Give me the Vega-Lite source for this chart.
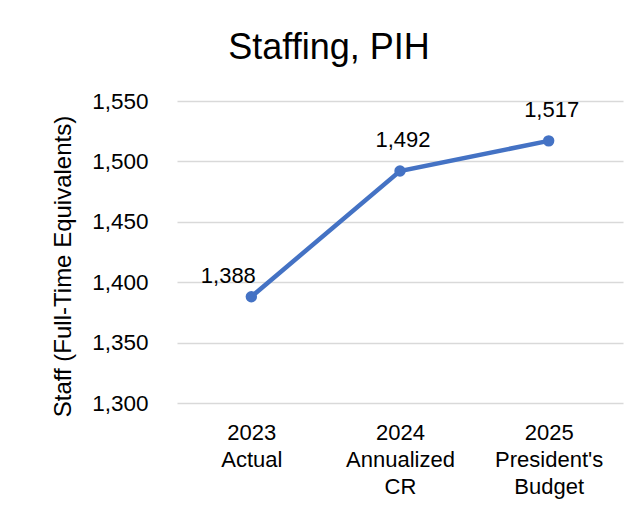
{
  "$schema": "https://vega.github.io/schema/vega-lite/v6.json",
  "autosize": {"type": "none"},
  "width": 446,
  "height": 302,
  "padding": {"left": 177, "top": 101, "right": 21, "bottom": 109},
  "background": "white",
  "config": {
    "font": "Liberation Sans",
    "view": {"stroke": null}
  },
  "title": {
    "text": "Staffing, PIH",
    "fontSize": 36,
    "font": "Liberation Sans",
    "fontWeight": "normal",
    "color": "#000000",
    "anchor": "middle",
    "dx": -71,
    "baseline": "alphabetic",
    "offset": -5
  },
  "data": {
    "values": [
      {"period": "2023 Actual", "staff": 1388},
      {"period": "2024 Annualized CR", "staff": 1492},
      {"period": "2025 President's Budget", "staff": 1517}
    ]
  },
  "encoding": {
    "x": {
      "field": "period",
      "type": "ordinal",
      "sort": null,
      "scale": {"type": "point", "padding": 0.5},
      "axis": {
        "title": null,
        "labelAngle": 0,
        "labelExpr": "split(datum.label, ' ')",
        "labelFontSize": 22,
        "labelColor": "#000000",
        "labelLineHeight": 27,
        "labelPadding": 19,
        "ticks": false,
        "domain": false,
        "grid": false
      }
    },
    "y": {
      "field": "staff",
      "type": "quantitative",
      "scale": {"domain": [1300, 1550], "nice": false, "zero": false},
      "axis": {
        "title": "Staff (Full-Time Equivalents)",
        "titleFontSize": 24,
        "titleFontWeight": "normal",
        "titleColor": "#000000",
        "titlePadding": 16,
        "titleY": 165,
        "values": [1300, 1350, 1400, 1450, 1500, 1550],
        "format": ",d",
        "labelFontSize": 22.5,
        "labelColor": "#000000",
        "labelPadding": 29,
        "ticks": false,
        "domain": false,
        "grid": true,
        "gridColor": "#d9d9d9",
        "gridWidth": 1.3
      }
    }
  },
  "layer": [
    {
      "mark": {"type": "line", "color": "#4472C4", "strokeWidth": 4.5}
    },
    {
      "mark": {"type": "point", "filled": true, "color": "#4472C4", "size": 130, "opacity": 1}
    },
    {
      "transform": [{"filter": "datum.period != '2023 Actual'"}],
      "mark": {"type": "text", "fontSize": 22, "color": "#000000", "baseline": "alphabetic", "dy": -24, "dx": 3},
      "encoding": {"text": {"field": "staff", "type": "quantitative", "format": ",d"}}
    },
    {
      "transform": [{"filter": "datum.period == '2023 Actual'"}],
      "mark": {"type": "text", "fontSize": 22, "color": "#000000", "baseline": "alphabetic", "dy": -14, "dx": -23},
      "encoding": {"text": {"field": "staff", "type": "quantitative", "format": ",d"}}
    }
  ]
}
